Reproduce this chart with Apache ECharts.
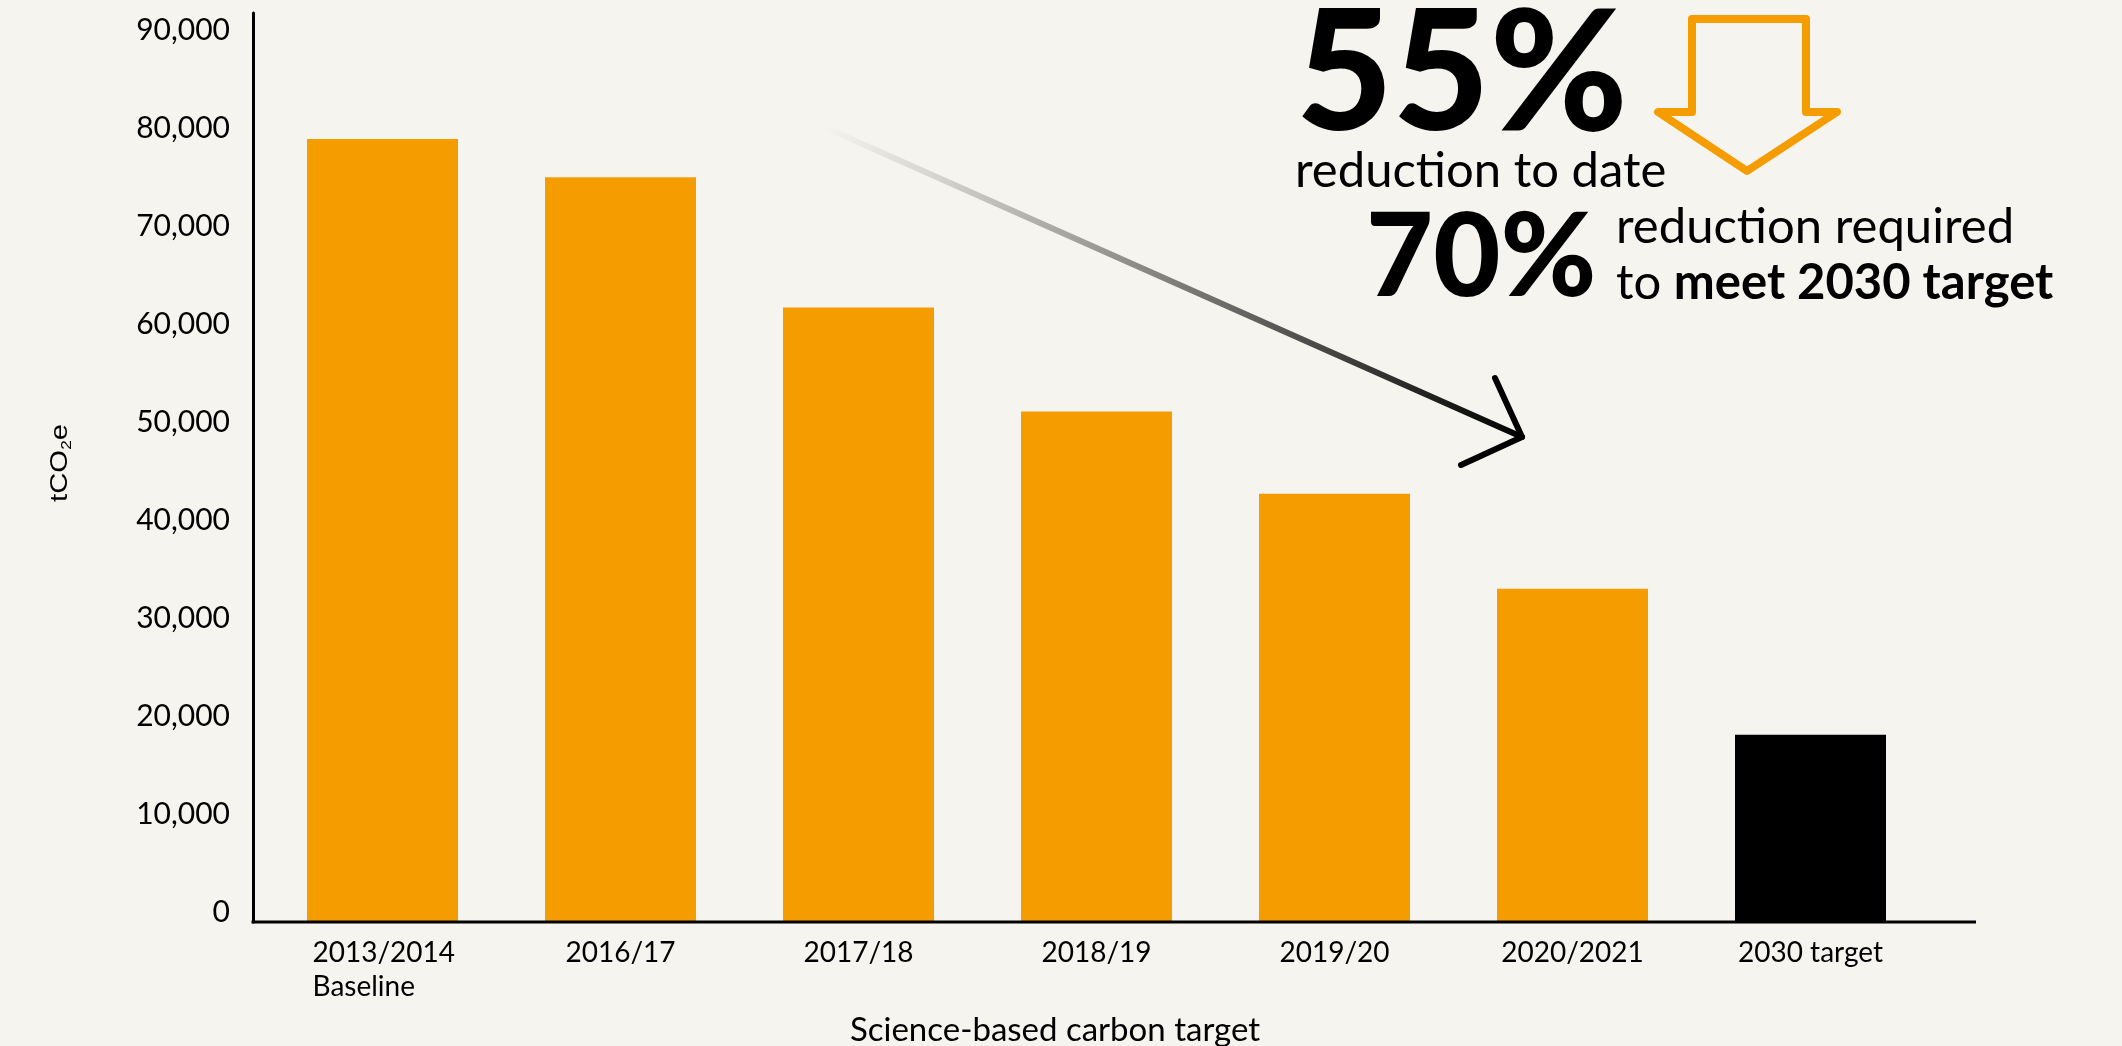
<!DOCTYPE html>
<html>
<head>
<meta charset="utf-8">
<script src="https://cdn.jsdelivr.net/npm/echarts@6/dist/echarts.min.js"></script>
<style>
html,body{margin:0;padding:0;background:#F5F4EE;}
#chart{width:2122px;height:1046px;}
</style>
</head>
<body>
<div id="chart"></div>
<script>
// ---- data ----
const categories = ['2013/2014\nBaseline', '2016/17', '2017/18', '2018/19', '2019/20', '2020/2021', '2030 target'];
const emissions = [79900, 76000, 62700, 52100, 43700, 34000, 19100];
const targetCategory = '2030 target';
const yTickInterval = 10000;
const yTickMax = 90000;
const yAxisTitle = ['tCO', '2', 'e'];
const xAxisTitle = 'Science-based carbon target';
const headlinePct = '55%';
const headlineText = 'reduction to date';
const requiredPct = '70%';
const requiredLine1 = 'reduction required';
const requiredLine2a = 'to ';
const requiredLine2b = 'meet 2030 target';

// ---- styles ----
const ORANGE = '#F59D00';
const BG = '#F5F4EE';
const FONT = 'Lato, "Noto Sans", sans-serif';

const chart = echarts.init(document.getElementById('chart'), null, {renderer: 'canvas'});

const option = {
  backgroundColor: BG,
  animation: false,
  grid: {left: 263.5, right: 192.5, top: 13, bottom: 124, containLabel: false},
  xAxis: {
    type: 'category',
    data: categories,
    axisLine: {show: false},
    axisTick: {show: false},
    axisLabel: {
      margin: 14,
      color: '#000',
      fontFamily: FONT,
      fontSize: 28,
      lineHeight: 34,
      interval: 0,
      formatter: function (v) {
        if (v.indexOf('\n') < 0) return v;
        return v.split('\n').map(function (s) { return '{l|' + s + '}'; }).join('\n');
      },
      rich: {
        l: {fontFamily: FONT, fontSize: 28, lineHeight: 34, color: '#000', width: 140, align: 'left'}
      }
    }
  },
  yAxis: {
    type: 'value',
    min: 0,
    max: 92750,
    interval: yTickInterval,
    offset: 10.5,
    splitLine: {show: false},
    axisTick: {show: false},
    axisLine: {show: true, lineStyle: {color: '#000', width: 3}},
    axisLabel: {
      margin: 23,
      color: '#000',
      fontFamily: FONT,
      fontSize: 30,
      lineHeight: 20,
      verticalAlign: 'bottom',
      showMaxLabel: false,
      formatter: function (v) {
        return (v % yTickInterval === 0 && v <= yTickMax) ? v.toLocaleString('en-US') : '';
      }
    }
  },
  series: [{
    type: 'bar',
    data: emissions,
    barWidth: 151,
    itemStyle: {
      color: function (p) { return categories[p.dataIndex] === targetCategory ? '#000' : ORANGE; }
    }
  }],
  graphic: [
    // x axis line
    {type: 'line', z: 100, shape: {x1: 251.5, y1: 922, x2: 1976, y2: 922}, style: {stroke: '#000', lineWidth: 3}},
    // y axis title
    {type: 'text', x: 60, y: 463, rotation: Math.PI / 2, scaleX: 1.22, z: 100,
      style: {
        text: '{a|' + yAxisTitle[0] + '}{s|' + yAxisTitle[1] + '}{a|' + yAxisTitle[2] + '}',
        align: 'center', verticalAlign: 'middle',
        rich: {
          a: {fontFamily: '"Liberation Sans", Arial, sans-serif', fontSize: 24, lineHeight: 28, fill: '#000'},
          s: {fontFamily: '"Liberation Sans", Arial, sans-serif', fontSize: 14, lineHeight: 12, verticalAlign: 'bottom', fill: '#000'}
        }
      }},
    // x axis title
    {type: 'text', x: 1055, y: 1030, z: 100,
      style: {text: xAxisTitle, fontFamily: FONT, fontSize: 33, fill: '#000', align: 'center', verticalAlign: 'middle'}},
    // gradient trend arrow
    {type: 'line', z: 50, shape: {x1: 824, y1: 127, x2: 1522, y2: 437},
      style: {lineWidth: 6, lineCap: 'round',
        stroke: new echarts.graphic.LinearGradient(824, 127, 1522, 437, [
          {offset: 0, color: 'rgba(0,0,0,0)'},
          {offset: 0.15, color: 'rgba(0,0,0,0.12)'},
          {offset: 1, color: 'rgba(0,0,0,1)'}
        ], true)}},
    {type: 'polyline', z: 51, shape: {points: [[1495, 378], [1522, 437], [1461, 465]]},
      style: {stroke: '#000', lineWidth: 6, lineCap: 'round', lineJoin: 'round', fill: null}},
    // orange outline arrow
    {type: 'polygon', z: 50,
      shape: {points: [[1692, 19], [1806, 19], [1806, 112], [1837, 112], [1747, 171], [1658, 112], [1692, 112]]},
      style: {stroke: ORANGE, lineWidth: 8, lineJoin: 'round', fill: null}},
    // headline texts
    {type: 'text', x: 1296, y: 76, z: 60,
      style: {text: headlinePct, fontFamily: FONT, fontWeight: 900, fontSize: 167, fill: '#000', align: 'left', verticalAlign: 'middle'}},
    {type: 'text', x: 1295, y: 171, z: 60,
      style: {text: headlineText, fontFamily: FONT, fontSize: 49, fill: '#000', align: 'left', verticalAlign: 'middle'}},
    {type: 'text', x: 1366, y: 259, z: 60,
      style: {text: requiredPct, fontFamily: FONT, fontWeight: 900, fontSize: 116, fill: '#000', align: 'left', verticalAlign: 'middle'}},
    {type: 'text', x: 1616, y: 227, z: 60,
      style: {text: requiredLine1, fontFamily: FONT, fontSize: 49, fill: '#000', align: 'left', verticalAlign: 'middle'}},
    {type: 'text', x: 1616, y: 283, z: 60,
      style: {
        text: '{n|' + requiredLine2a + '}{b|' + requiredLine2b + '}',
        align: 'left', verticalAlign: 'middle',
        rich: {
          n: {fontFamily: FONT, fontSize: 49, fill: '#000'},
          b: {fontFamily: FONT, fontSize: 49, fontWeight: 'bold', fill: '#000'}
        }
      }}
  ]
};
chart.setOption(option);
</script>
</body>
</html>
